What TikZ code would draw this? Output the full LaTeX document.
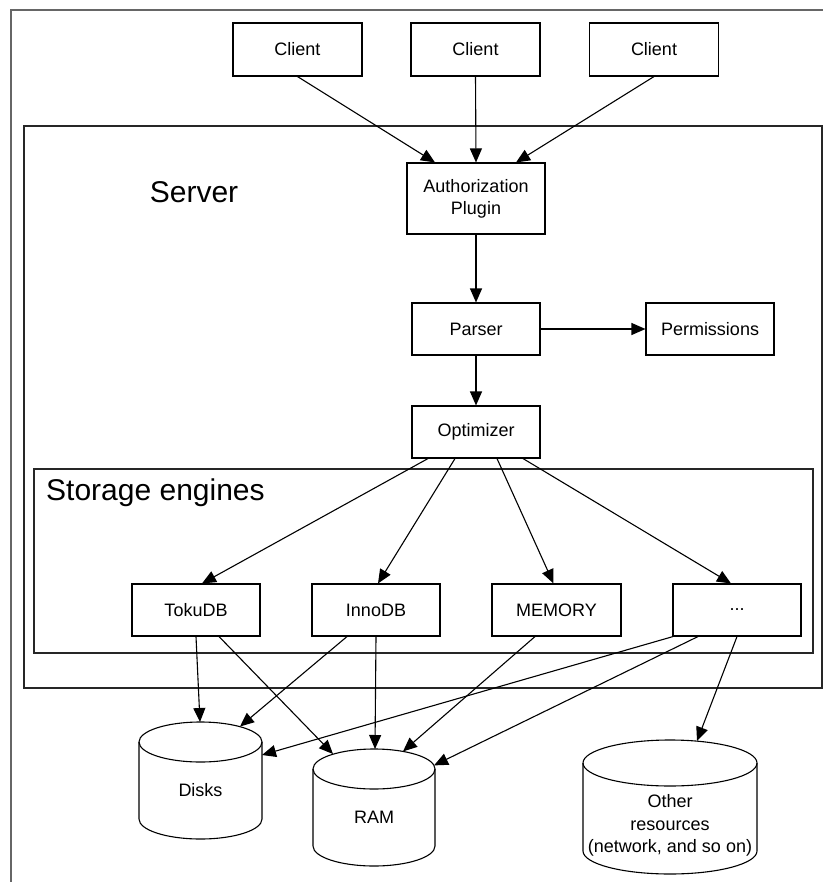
\documentclass[tikz,border=0pt]{standalone}
\usepackage{fontspec}
\setmainfont{Liberation Sans}
\usetikzlibrary{arrows.meta,calc}
\begin{document}
\begin{tikzpicture}[x=1pt,y=-1pt,
  box/.style={draw=black,line width=1.1pt,minimum width=128pt,minimum height=52pt,inner sep=0pt,align=center,font=\fontsize{18}{22}\selectfont},
  container/.style={draw=black!85,line width=1.2pt,inner sep=0pt},
  title/.style={inner sep=0pt,font=\fontsize{30}{36}\selectfont},
  arr/.style={-{Triangle[length=14pt,width=12pt]},line width=1.1pt},
  dbline/.style={draw=black,line width=1.1pt},
  dbtext/.style={inner sep=0pt,align=center,font=\fontsize{18}{22.5}\selectfont},
  frame/.style={draw=black!60,line width=2pt}]
\useasboundingbox (0,0) rectangle (823,882);
\fill[white] (0,0) rectangle (823,882);
\draw[frame] (11,882) -- (11,10) -- (823,10);

% containers
\node[container,minimum width=798pt,minimum height=562pt] (server) at (423,407) {};
\node[title] (serverlabel) at (194,192) {Server};
\node[container,minimum width=779pt,minimum height=184pt] (storage) at (423.5,561) {};
\node[title,anchor=west] (storagelabel) at (46,493) {Storage engines};

% clients
\node[box,minimum width=129pt,minimum height=53pt] (c1) at (297.5,49.5) {Client};
\node[box,minimum width=129pt,minimum height=53pt] (c2) at (475.5,49.5) {Client};
\node[box,minimum width=129pt,minimum height=53pt] (c3) at (654,49.5) {Client};

% server internals
\node[box,minimum width=138pt,minimum height=71pt] (auth) at (476,198.5) {Authorization\\Plugin};
\node[box] (parser) at (476,329) {Parser};
\node[box] (perm) at (710,329) {Permissions};
\node[box] (opt) at (476,432) {Optimizer};

% engines
\node[box] (toku) at (196,610) {TokuDB};
\node[box] (inno) at (376,610) {InnoDB};
\node[box,minimum width=129pt] (mem) at (556.5,610) {MEMORY};
\node[box] (dots) at (737,610) {...};

% resources (cylinders)
\draw[dbline] (139,742) -- (139,819) .. controls (139,830.05) and (166.53,839) .. (200.5,839)
  .. controls (234.47,839) and (262,830.05) .. (262,819) -- (262,742);
\draw[dbline] (200.5,742) ellipse [x radius=61.5pt, y radius=20pt];
\node[dbtext] (disks) at (200.5,790) {Disks};

\draw[dbline] (313,769) -- (313,846) .. controls (313,857.05) and (340.31,866) .. (374,866)
  .. controls (407.69,866) and (435,857.05) .. (435,846) -- (435,769);
\draw[dbline] (374,769) ellipse [x radius=61pt, y radius=20pt];
\node[dbtext] (ram) at (374,817) {RAM};

\draw[dbline] (583,763) -- (583,851) .. controls (583,863.7) and (621.95,874) .. (670,874)
  .. controls (718.05,874) and (757,863.7) .. (757,851) -- (757,763);
\draw[dbline] (670,763) ellipse [x radius=87pt, y radius=23pt];
\node[dbtext] (other) at (670,825.5) {Other\\resources\\(network, and so on)};

% connector ends on the cylinders
\coordinate (disksA) at (200,722);
\coordinate (disksB) at (240,726.5);
\coordinate (disksC) at (262,755);
\coordinate (ramA) at (333,754);
\coordinate (ramB) at (375,749);
\coordinate (ramC) at (403,751.4);
\coordinate (ramD) at (434,765.4);
\coordinate (otherA) at (697,741);

% arrows
\draw[arr] (c1.south) -- ([xshift=-41pt]auth.north);
\draw[arr] (c2.south) -- (auth.north);
\draw[arr] (c3.south) -- ([xshift=40pt]auth.north);
\draw[arr] (auth.south) -- (parser.north);
\draw[arr] (parser.east) -- (perm.west);
\draw[arr] (parser.south) -- (opt.north);
\draw[arr] ([xshift=-48pt]opt.south) -- ([xshift=6pt]toku.north);
\draw[arr] ([xshift=-21pt]opt.south) -- ([xshift=2pt]inno.north);
\draw[arr] ([xshift=21pt]opt.south) -- ([xshift=-3pt]mem.north);
\draw[arr] ([xshift=47pt]opt.south) -- ([xshift=-6pt]dots.north);

\draw[arr] (toku.south) -- (disksA);
\draw[arr] ([xshift=23pt]toku.south) -- (ramA);
\draw[arr] ([xshift=-29pt]inno.south) -- (disksB);
\draw[arr] (inno.south) -- (ramB);
\draw[arr] ([xshift=-21.5pt]mem.south) -- (ramC);
\draw[arr] ([xshift=-64pt]dots.south) -- (disksC);
\draw[arr] ([xshift=-39pt]dots.south) -- (ramD);
\draw[arr] (dots.south) -- (otherA);
\end{tikzpicture}
\end{document}
